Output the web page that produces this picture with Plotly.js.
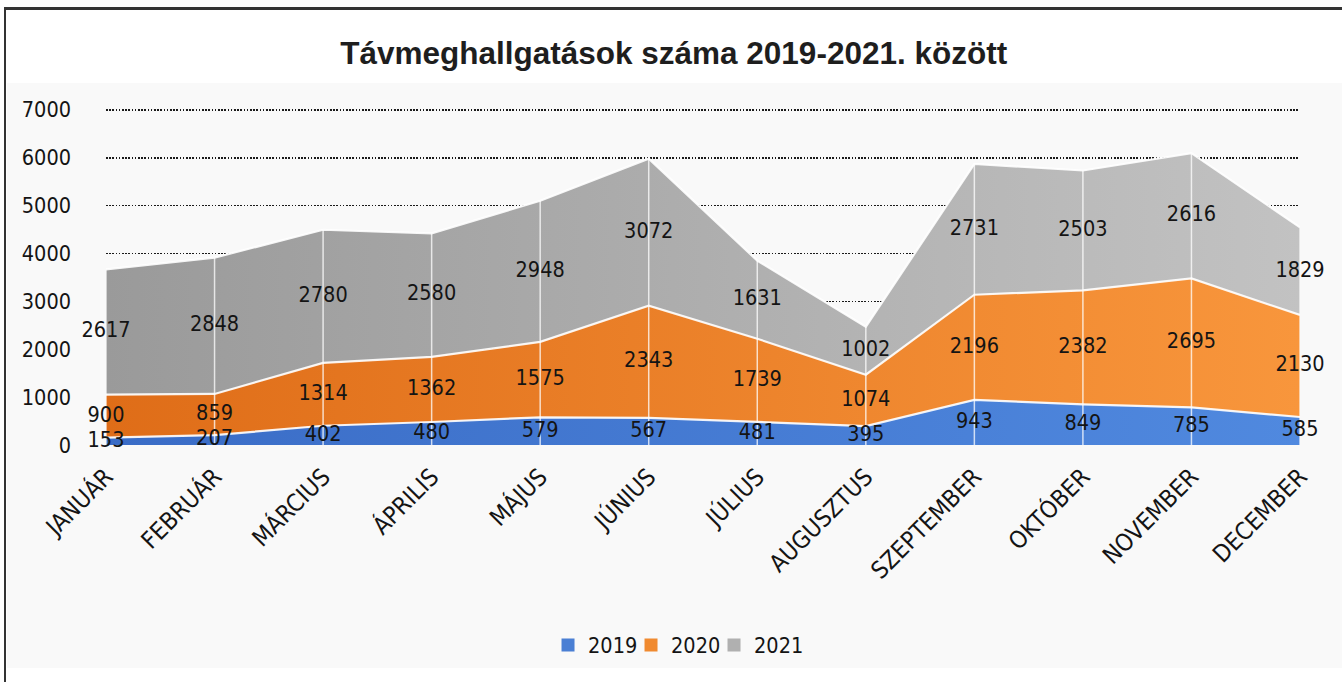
<!DOCTYPE html>
<html>
<head>
<meta charset="utf-8">
<script src="https://cdn.plot.ly/plotly-3.0.1.min.js"></script>
<style>
  html, body { margin: 0; padding: 0; background: #ffffff; }
  #wrap { position: relative; width: 1342px; height: 682px; overflow: hidden; background: #ffffff; }
  #frameTop { position: absolute; left: 4px; top: 7px; width: 1338px; height: 0; border-top: 3px solid #333333; }
  #frameLeft { position: absolute; left: 4px; top: 7px; width: 0; height: 675px; border-left: 2px solid #333333; }
  #panel { position: absolute; left: 7px; top: 83px; width: 1335px; height: 585px; background: #f9f9f9; }
  #chart { position: absolute; left: 0; top: 0; width: 1342px; height: 682px; }
</style>
</head>
<body>
<div id="wrap">
  <div id="frameTop"></div>
  <div id="frameLeft"></div>
  <div id="panel"></div>
  <div id="chart"></div>
</div>
<script>
const months = ["JANUÁR","FEBRUÁR","MÁRCIUS","ÁPRILIS","MÁJUS","JÚNIUS","JÚLIUS","AUGUSZTUS","SZEPTEMBER","OKTÓBER","NOVEMBER","DECEMBER"];
const y2019 = [153, 207, 402, 480, 579, 567, 481, 395, 943, 849, 785, 585];
const y2020 = [900, 859, 1314, 1362, 1575, 2343, 1739, 1074, 2196, 2382, 2695, 2130];
const y2021 = [2617, 2848, 2780, 2580, 2948, 3072, 1631, 1002, 2731, 2503, 2616, 1829];
const seriesNames = ["2019", "2020", "2021"];
const yTicks = [0, 1000, 2000, 3000, 4000, 5000, 6000, 7000];

const idx = months.map((m, i) => i);
const labelFont = "DejaVu Sans Condensed, Liberation Sans Narrow, sans-serif";
const legendColors = ["#4a7fd4", "#f08a30", "#b0b0b0"];

function areaTrace(name, vals, c0, c1, legendColor) {
  return {
    type: "scatter", mode: "lines", name: name, x: idx, y: vals,
    stackgroup: "one", showlegend: false,
    line: { color: "rgba(255,255,255,0.9)", width: 2.2 },
    fillcolor: legendColor,
    fillgradient: { type: "horizontal", colorscale: [[0, c0], [1, c1]] },
    hoverinfo: "skip"
  };
}

const traces = [
  areaTrace(seriesNames[0], y2019, "#3a6cc6", "#5089df", legendColors[0]),
  areaTrace(seriesNames[1], y2020, "#df6d18", "#f8963c", legendColors[1]),
  areaTrace(seriesNames[2], y2021, "#9a9a9a", "#c2c2c2", legendColors[2])
];

// vertical white drop lines at each month, built from data totals
const vx = [], vy = [];
idx.forEach(i => {
  const tot = y2019[i] + y2020[i] + y2021[i];
  vx.push(i, i, null); vy.push(0, tot, null);
});
traces.push({
  type: "scatter", mode: "lines", x: vx, y: vy, showlegend: false, hoverinfo: "skip",
  line: { color: "rgba(255,255,255,0.75)", width: 1.5 }
});

// data labels centered in each band
const lx = [], ly = [], lt = [];
idx.forEach(i => {
  const a = y2019[i], b = y2020[i], c = y2021[i];
  lx.push(i, i, i);
  ly.push(a / 2, a + b / 2, a + b + c / 2);
  lt.push(String(a), String(b), String(c));
});
traces.push({
  type: "scatter", mode: "text", x: lx, y: ly, text: lt, textposition: "middle center",
  showlegend: false, hoverinfo: "skip", cliponaxis: false,
  textfont: { family: labelFont, size: 21.5, color: "#141414" }
});

// legend entries (square swatches)
seriesNames.forEach((n, k) => {
  traces.push({
    type: "scatter", mode: "markers", name: n, x: [null], y: [null],
    marker: { symbol: "square", size: 13, color: legendColors[k] },
    showlegend: true, hoverinfo: "skip"
  });
});
// invisible spacer entry so the last legend label is not clipped
traces.push({
  type: "scatter", mode: "markers", name: " ", x: [null], y: [null],
  marker: { symbol: "square", size: 13, color: "rgba(0,0,0,0)" },
  showlegend: true, hoverinfo: "skip"
});

const layout = {
  width: 1342, height: 682,
  paper_bgcolor: "rgba(0,0,0,0)", plot_bgcolor: "rgba(0,0,0,0)",
  margin: { l: 106, r: 42, t: 107, b: 237 },
  title: {
    text: "<b>Távmeghallgatások száma 2019-2021. között</b>",
    font: { family: "Liberation Sans, Arial, sans-serif", size: 31.5, color: "#1e1e1e" },
    x: 0.502, xref: "container", xanchor: "center", y: 0.922, yanchor: "middle"
  },
  xaxis: {
    range: [0, 11], tickvals: idx, ticktext: months, tickangle: -45,
    showgrid: false, zeroline: false, showline: false, ticks: "",
    ticklabelstandoff: 12,
    tickfont: { family: labelFont, size: 24, color: "#141414" }
  },
  yaxis: {
    range: [0, 7060], tickvals: yTicks, ticktext: yTicks.map(String),
    showgrid: true, gridcolor: "#1a1a1a", gridwidth: 1.6, griddash: "1.6px,1.6px",
    zeroline: false, showline: false, ticks: "",
    ticklabelstandoff: 34,
    tickfont: { family: labelFont, size: 21.5, color: "#141414" }
  },
  showlegend: true,
  legend: {
    orientation: "h", x: 0.3702, xanchor: "left", y: -0.592, yanchor: "middle",
    font: { family: labelFont, size: 21.5, color: "#141414" },
    bgcolor: "rgba(0,0,0,0)", itemwidth: 30, entrywidth: 38, entrywidthmode: "pixels",
    traceorder: "normal"
  },
  hovermode: false
};

Plotly.newPlot("chart", traces, layout, { displayModeBar: false, staticPlot: true });
</script>
</body>
</html>
